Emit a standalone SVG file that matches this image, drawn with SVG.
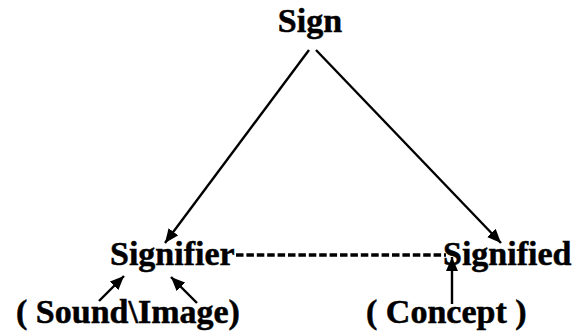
<svg xmlns="http://www.w3.org/2000/svg" width="576" height="331" viewBox="0 0 576 331">
<style>
text{font-family:'Liberation Serif','DejaVu Serif',serif;font-weight:700;font-size:34px;fill:#000;stroke:#000;stroke-width:0.5}
.c{stroke:#000;stroke-width:2.4;fill:none}
</style>
<defs>
<marker id="ah" viewBox="0 0 14 12" refX="14" refY="6" markerWidth="14" markerHeight="12" markerUnits="userSpaceOnUse" orient="auto">
<path d="M0,0 L14,6 L0,12 z" fill="#000"/>
</marker>
</defs>
<rect width="576" height="331" fill="#fff"/>
<g id="connectors">
<line class="c" x1="309" y1="50" x2="165" y2="243" marker-end="url(#ah)"/>
<line class="c" x1="316" y1="50" x2="501" y2="243" marker-end="url(#ah)"/>
<line x1="236" y1="255" x2="446" y2="255" stroke="#000" stroke-width="3.5" stroke-dasharray="7.5 2.9"/>
<line class="c" x1="452" y1="304" x2="452" y2="257" marker-end="url(#ah)"/>
<line class="c" x1="99" y1="301" x2="124" y2="276" marker-end="url(#ah)"/>
<line class="c" x1="197" y1="303" x2="171" y2="277" marker-end="url(#ah)"/>
</g>
<g id="sign"><text x="310" y="32" text-anchor="middle">Sign</text></g>
<g id="signifier"><text x="110" y="265">Signifier</text></g>
<g id="signified"><text x="443" y="265">Signified</text></g>
<g id="sound-image"><text x="16" y="323">( Sound\Image)</text></g>
<g id="concept"><text x="366" y="323">( Concept )</text></g>
</svg>
